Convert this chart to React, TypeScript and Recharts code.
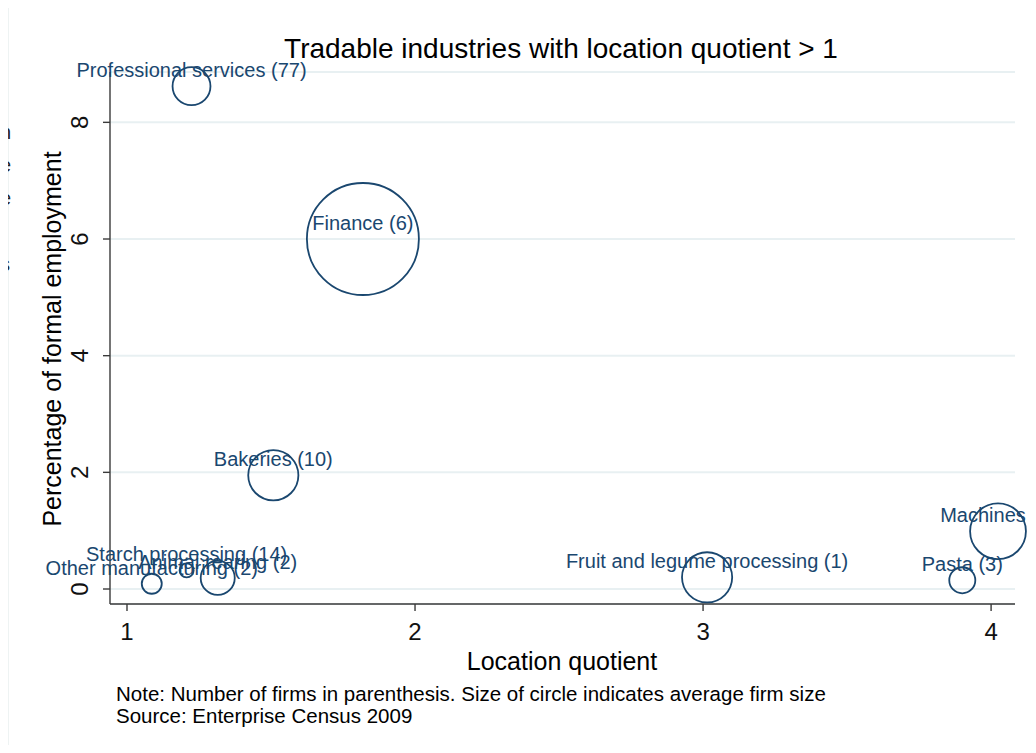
import { CartesianGrid, Scatter, ScatterChart, XAxis, YAxis, ZAxis } from "recharts"

// industries (label = name + number of firms)
const industries = [
	"Professional services (77)",
	"Finance (6)",
	"Bakeries (10)",
	"Starch processing (14)",
	"Animal rearing (2)",
	"Other manufacturing (2)",
	"Fruit and legume processing (1)",
	"Pasta (3)",
	"Machines (2)",
]
const locationQuotient = [1.224, 1.819, 1.508, 1.207, 1.315, 1.086, 3.014, 3.9, 4.024]
const formalEmployment = [8.62, 6.0, 1.95, 0.32, 0.19, 0.09, 0.2, 0.15, 0.99]
// average firm size, estimated from the circle areas
const avgFirmSize = [36, 314, 63, 5, 29, 10, 63, 17, 78]

const xTicks = [1, 2, 3, 4]
const yTicks = [0, 2, 4, 6, 8]

// letters from the neighbouring page column, cut off at the left edge
const leftFragments = ["l", "n", "e", "e", "l", "s"]

const data = industries.map((name, i) => ({
	name,
	lq: locationQuotient[i],
	share: formalEmployment[i],
	size: avgFirmSize[i],
}))

const navy = "#1a476f"
const axisColor = "#3a3a3a"
const font = "'Liberation Sans', Arial, Helvetica, sans-serif"

function Bubble(props: any) {
	const { cx, cy, size, payload } = props
	const r = Math.sqrt(Math.max(size, 0) / Math.PI)
	return (
		<g>
			<circle cx={cx} cy={cy} r={r} fill="none" stroke={navy} strokeWidth={1.8} />
			<text
				x={cx}
				y={cy - 9}
				textAnchor="middle"
				fontSize={20}
				fontFamily={font}
				fill={navy}
			>
				{payload.name}
			</text>
		</g>
	)
}

function XTick(props: any) {
	const { x, payload } = props
	return (
		<text x={x} y={633} textAnchor="middle" fontSize={24} fontFamily={font} fill="#111">
			{payload.value}
		</text>
	)
}

function YTick(props: any) {
	const { y, payload } = props
	return (
		<text
			x={71}
			y={y}
			dy="0.35em"
			textAnchor="middle"
			fontSize={24}
			fontFamily={font}
			fill="#111"
			transform={`rotate(-90, 71, ${y})`}
		>
			{payload.value}
		</text>
	)
}

export default function App() {
	return (
		<div style={{ position: "relative", width: 1036, height: 753, margin: -8, fontFamily: font }}>
			<div
				style={{
					position: "absolute",
					left: 8,
					top: 6,
					borderLeft: "1px solid #eef3f3",
					borderTop: "1px solid #eef3f3",
					background: "#fff",
				}}
			>
				<ScatterChart
					width={1027}
					height={746}
					margin={{ top: 65, right: 21, bottom: 109, left: 0 }}
				>
					<CartesianGrid vertical={false} stroke="#e8f0f2" strokeWidth={2} />
					<XAxis
						type="number"
						dataKey="lq"
						domain={[0.941, 4.083]}
						ticks={xTicks}
						height={40}
						tick={<XTick />}
						tickSize={7}
						axisLine={{ stroke: axisColor, strokeWidth: 1.4 }}
						tickLine={{ stroke: axisColor, strokeWidth: 1.4 }}
					/>
					<YAxis
						type="number"
						dataKey="share"
						domain={[-0.257, 8.863]}
						ticks={yTicks}
						width={101}
						tick={<YTick />}
						tickSize={7}
						axisLine={{ stroke: axisColor, strokeWidth: 1.4 }}
						tickLine={{ stroke: axisColor, strokeWidth: 1.4 }}
					/>
					<ZAxis type="number" dataKey="size" domain={[0, 314]} range={[0, Math.PI * 56 * 56]} />
					<Scatter data={data} shape={<Bubble />} isAnimationActive={false} />
					<text x={552} y={51} textAnchor="middle" fontSize={28} fontFamily={font} fill="#000">
						Tradable industries with location quotient &gt; 1
					</text>
					<text x={553} y={663} textAnchor="middle" fontSize={25} fontFamily={font} fill="#000">
						Location quotient
					</text>
					<text
						x={52}
						y={332}
						textAnchor="middle"
						fontSize={25}
						fontFamily={font}
						fill="#000"
						transform="rotate(-90, 52, 332)"
					>
						Percentage of formal employment
					</text>
					<text x={107} y={694} fontSize={20.5} fontFamily={font} fill="#000">
						Note: Number of firms in parenthesis. Size of circle indicates average firm size
					</text>
					<text x={107} y={716} fontSize={20.5} fontFamily={font} fill="#000">
						Source: Enterprise Census 2009
					</text>
				</ScatterChart>
			</div>
			{leftFragments.map((t, i) => (
				<div
					key={i}
					style={{
						position: "absolute",
						left: 0,
						top: 86 + i * 33,
						zIndex: 2,
						fontSize: 20,
						lineHeight: "26px",
						color: "#222",
					}}
				>
					{t}
				</div>
			))}
		</div>
	)
}
